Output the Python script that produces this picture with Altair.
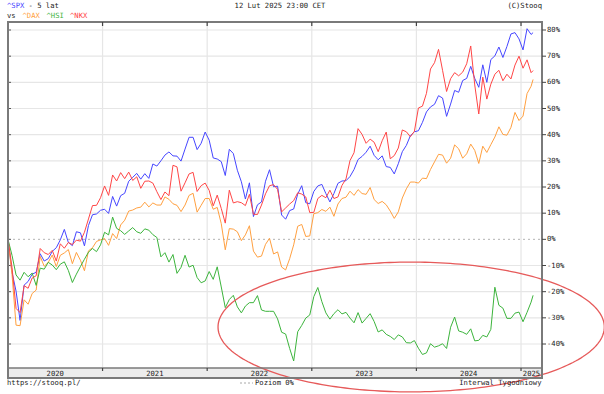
import altair as alt
import pandas as pd
import numpy as np

# ---------------- data (percent change vs 2020-02-14, bi-weekly) ----------------
dates = list(pd.date_range("2020-02-14", periods=131, freq="14D")) + [pd.Timestamp("2025-02-14")]
date_str = [d.strftime("%Y-%m-%dT00:00:00Z") for d in dates]

spx = [0, -12.6, -19.8, -31.0, -17.5, -16.1, -13.3, -12.6, -5.5, -8.3,
       -7.4, -4.6, -3.2, -0.2, 3.8, -1.2, -2.4, 2.9, 2.5, -2.5,
       5.3, 9.4, 9.7, 11.1, 11.5, 9.9, 16.4, 12.7, 16.7, 17.6,
       22.2, 23.7, 25.2, 23.0, 25.1, 23.3, 28.8, 28.0, 30.0, 32.2,
       33.4, 31.9, 31.8, 29.9, 34.5, 39.0, 39.0, 34.3, 36.7, 41.0,
       37.9, 31.1, 30.7, 29.7, 24.4, 34.4, 32.8, 26.4, 22.0, 15.4,
       21.6, 8.7, 13.2, 14.3, 22.2, 26.6, 20.1, 20.3, 9.3, 7.7,
       11.0, 11.6, 17.3, 20.5, 14.0, 13.6, 18.3, 20.4, 21.0, 17.5,
       14.3, 17.5, 21.4, 22.3, 22.4, 24.0, 26.7, 30.5, 31.7, 33.3,
       35.6, 32.1, 30.4, 31.9, 27.8, 27.5, 25.0, 28.9, 33.5, 35.9,
       39.6, 41.1, 41.5, 44.7, 48.7, 50.6, 51.6, 54.9, 54.0, 47.0,
       51.7, 56.9, 56.2, 60.7, 61.5, 66.1, 61.5, 58.1, 66.7, 60.0,
       68.7, 70.1, 73.5, 69.5, 73.7, 78.5, 79.0, 76.6, 72.4, 80.5,
       78.3, 79.0]

dax = [0, -13.5, -32.8, -33.0, -23.1, -24.8, -20.7, -19.4, -6.5, -10.3,
       -8.8, -6.0, -10.4, -6.1, -5.2, -3.9, -9.3, -5.0, -8.0, -12.0,
       -4.4, -3.2, -0.8, -0.2, 0.3, -2.3, 2.2, 0.3, 5.5, 7.3,
       10.8, 11.2, 12.0, 12.3, 14.2, 12.4, 13.9, 13.1, 13.1, 16.2,
       15.3, 13.6, 13.0, 10.6, 13.1, 16.8, 17.6, 10.4, 13.0, 15.6,
       15.6, 11.5, 12.2, 6.0, -4.0, 4.1, 3.9, 2.9, -0.5, 1.7,
       5.2, -4.5, -6.8, -6.4, -1.9, 0.4, -5.6, -4.8, -10.6, -11.7,
       -7.4, -2.1, 5.0, 5.7, 1.1, 1.3, 9.8, 10.2, 11.4, 10.7,
       12.3, 8.8, 13.5, 15.6, 16.1, 18.4, 16.8, 19.0, 17.5, 17.2,
       19.8, 15.2, 13.7, 14.5, 13.2, 10.8, 8.0, 10.5, 15.8, 19.3,
       21.9, 21.9, 21.5, 23.4, 23.2, 26.7, 29.6, 32.5, 32.2, 29.1,
       31.0, 36.1, 34.6, 31.0, 32.7, 36.4, 34.0, 29.0, 35.6, 33.2,
       36.2, 39.1, 43.0, 40.1, 39.8, 42.8, 48.5, 45.4, 47.1, 55.7,
       58.5, 61.1]

hsi = [0, -6.1, -13.6, -15.6, -12.6, -14.3, -12.9, -17.6, -11.0, -11.4,
       -8.8, -9.8, -11.6, -9.5, -8.6, -11.9, -16.5, -13.3, -10.4, -7.6,
       -4.9, -3.5, -4.7, -2.1, 2.7, 1.7, 8.5, 4.2, 3.3, 1.9,
       3.2, 4.5, 2.9, 2.3, 4.0, 3.5, 1.8, 0.7, -6.7, -5.1,
       -8.7, -5.8, -13.0, -10.7, -6.1, -10.6, -9.9, -14.6, -16.6, -15.9,
       -12.3, -15.3, -10.5, -18.2, -26.1, -23.0, -21.4, -25.8, -28.1, -25.5,
       -24.2, -24.2, -21.5, -27.0, -27.5, -27.5, -27.5, -30.4, -35.5, -36.2,
       -41.7, -46.5, -35.3, -32.9, -30.1, -28.9, -21.9, -18.4, -23.8, -28.1,
       -30.5, -28.4, -26.9, -28.5, -27.9, -30.1, -31.9, -28.0, -32.0, -30.2,
       -28.4, -31.4, -35.4, -34.6, -36.3, -37.1, -38.3, -36.5, -37.3, -39.5,
       -39.6, -38.7, -41.6, -44.0, -43.4, -39.9, -41.2, -40.7, -39.9, -41.7,
       -33.6, -29.7, -35.0, -35.5, -36.3, -34.2, -38.8, -38.6, -36.7, -37.3,
       -34.4, -18.3, -25.2, -26.3, -30.2, -30.2, -28.2, -27.8, -31.5, -27.9,
       -24.0, -21.4]

nkx = [0, -10.7, -26.4, -28.0, -17.7, -18.7, -14.8, -13.9, -3.5, -5.1,
       -5.8, -4.2, -8.3, -1.7, -3.4, -1.2, -2.0, -0.3, -0.7, 2.7,
       7.8, 12.9, 13.0, 15.9, 20.4, 16.8, 24.6, 22.3, 25.5, 23.2,
       25.7, 22.5, 23.9, 19.5, 22.2, 22.3, 21.5, 18.2, 15.2, 18.1,
       16.7, 28.3, 27.7, 18.4, 21.6, 25.0, 25.6, 18.3, 20.5, 21.5,
       18.7, 12.8, 16.9, 11.8, 6.2, 18.8, 13.9, 14.4, 14.0, 12.9,
       17.2, 9.6, 9.5, 13.1, 17.4, 20.5, 20.9, 19.1, 10.5, 12.0,
       13.5, 14.8, 17.8, 17.3, 16.2, 10.2, 10.3, 15.6, 16.8, 15.9,
       18.8, 15.6, 16.2, 20.6, 23.1, 30.1, 33.1, 42.3, 40.1, 36.7,
       38.3, 37.1, 33.5, 37.7, 41.0, 30.8, 32.0, 34.9, 41.8, 41.1,
       39.2, 41.3, 50.2, 50.9, 55.8, 65.1, 67.5, 72.6, 64.6, 56.5,
       61.4, 63.7, 62.5, 63.9, 67.1, 73.9, 59.0, 47.9, 62.0, 53.6,
       59.3, 63.1, 64.6, 60.6, 63.1, 61.3, 66.6, 70.0, 65.4, 68.6,
       63.7, 64.5]

series_names = ["^SPX", "^DAX", "^HSI", "^NKX"]
series_colors = ["#4646ff", "#ffa040", "#3cb43c", "#ff4646"]
series_values = [spx, dax, hsi, nkx]

year_bounds = ["2021-01-08", "2022-01-07", "2023-01-06", "2024-01-05", "2025-01-03"]
year_labels = ["2020", "2021", "2022", "2023", "2024", "2025"]
y_ticks = [80, 70, 60, 50, 40, 30, 20, 10, 0, -10, -20, -30, -40]
y_tick_labels = [f"{v}%" for v in y_ticks]

# ---------------- layout ----------------
W, H, BAND = 534, 346, 10
FONT = "DejaVu Sans Mono"
FS = 7.2
X_START, X_END = "2020-02-14", "2025-03-17"
GRID = "#e6e6e6"
FRAME = "#7a7a7a"

xscale = alt.Scale(type="utc",
                   domain=[alt.DateTime(year=2020, month=2, date=14, utc=True),
                           alt.DateTime(year=2025, month=3, date=17, utc=True)])
yscale = alt.Scale(domain=[-49.17, 83.06], nice=False, zero=False)

one = pd.DataFrame({"a": [0]})

band = alt.Chart(one).mark_rect(fill="#ececec").encode(
    x=alt.value(0), x2=alt.value(W), y=alt.value(H), y2=alt.value(H + BAND))

vb = pd.DataFrame({"d": [b + "T00:00:00Z" for b in year_bounds]})
vgrid = alt.Chart(vb).mark_rule(color=GRID, strokeWidth=1.2).encode(
    x=alt.X("d:T", scale=xscale, axis=None), y=alt.value(0), y2=alt.value(H))

hg = pd.DataFrame({"v": [t for t in y_ticks if t != 0]})
hgrid = alt.Chart(hg).mark_rule(color=GRID, strokeWidth=1.2).encode(
    y=alt.Y("v:Q", scale=yscale, axis=None), x=alt.value(0), x2=alt.value(W))

zero = alt.Chart(pd.DataFrame({"v": [0]})).mark_rule(
    color="#b4b4b4", strokeDash=[2, 3], strokeWidth=1).encode(
    y=alt.Y("v:Q", scale=yscale, axis=None), x=alt.value(0), x2=alt.value(W))

ytk = pd.DataFrame({"v": y_ticks, "lab": y_tick_labels})
lticks = alt.Chart(ytk).mark_rule(color="#555").encode(
    y=alt.Y("v:Q", scale=yscale, axis=None), x=alt.value(0), x2=alt.value(3))
rticks = alt.Chart(ytk).mark_rule(color="#444").encode(
    y=alt.Y("v:Q", scale=yscale, axis=None), x=alt.value(W), x2=alt.value(W + 4))
rlabels = alt.Chart(ytk).mark_text(font=FONT, fontSize=FS, color="#222", align="left",
                                   baseline="middle").encode(
    y=alt.Y("v:Q", scale=yscale, axis=None), x=alt.value(W + 5), text="lab:N")

lines = []
for name, col, vals in zip(series_names, series_colors, series_values):
    d = pd.DataFrame({"date": date_str, "pct": vals})
    lines.append(alt.Chart(d).mark_line(color=col, strokeWidth=1).encode(
        x=alt.X("date:T", scale=xscale, axis=None),
        y=alt.Y("pct:Q", scale=yscale, axis=None)))

# hand-drawn ellipse annotation (in data coordinates)
t = np.linspace(0, 2 * np.pi, 240)
c_date = pd.Timestamp(X_START) + pd.to_timedelta(1402.8, unit="D")
e_dates = [(c_date + pd.to_timedelta(672.0 * np.cos(tt), unit="D")).strftime("%Y-%m-%dT%H:%M:%SZ") for tt in t]
ell = pd.DataFrame({"d": e_dates, "v": -33.5 + 24.8 * np.sin(t), "i": np.arange(len(t))})
ellipse = alt.Chart(ell).mark_line(color="#e65a5a", strokeWidth=1.3).encode(
    x=alt.X("d:T", scale=xscale, axis=None),
    y=alt.Y("v:Q", scale=yscale, axis=None),
    order="i:Q")

frame = alt.Chart(one).mark_rect(fillOpacity=0, stroke=FRAME, strokeWidth=2).encode(
    x=alt.value(0), x2=alt.value(W), y=alt.value(0), y2=alt.value(H + BAND))
sep = alt.Chart(one).mark_rule(color=FRAME, strokeWidth=1.5).encode(
    x=alt.value(0), x2=alt.value(W), y=alt.value(H))

ttop = alt.Chart(vb).mark_rule(color="#444", strokeWidth=1.2).encode(
    x=alt.X("d:T", scale=xscale, axis=None), y=alt.value(0), y2=alt.value(4))
tband = alt.Chart(vb).mark_rule(color="#444", strokeWidth=1.2).encode(
    x=alt.X("d:T", scale=xscale, axis=None), y=alt.value(H), y2=alt.value(H + 3))

edges = [pd.Timestamp(X_START)] + [pd.Timestamp(b) for b in year_bounds] + [pd.Timestamp(X_END)]
mids = [(edges[k] + (edges[k + 1] - edges[k]) / 2).strftime("%Y-%m-%dT%H:%M:%SZ") for k in range(len(year_labels))]
yl = pd.DataFrame({"d": mids, "lab": year_labels})
ylabels = alt.Chart(yl).mark_text(font=FONT, fontSize=FS, color="#222", baseline="middle").encode(
    x=alt.X("d:T", scale=xscale, axis=None), y=alt.value(H + BAND / 2 + 0.5), text="lab:N")


def txt(s, x, y, color="#222", align="left"):
    return alt.Chart(one).mark_text(font=FONT, fontSize=FS, color=color, align=align,
                                    baseline="middle", text=s).encode(
        x=alt.value(x), y=alt.value(y))


texts = [
    txt("^SPX", -1, -16, "#4646ff"),
    txt("- 5 lat", -1 + 5 * 4.3, -16),
    txt("vs", -1, -6.5),
    txt("^DAX", 14.5, -6.5, "#ffa040"),
    txt("^HSI", 38.5, -6.5, "#3cb43c"),
    txt("^NKX", 62, -6.5, "#ff4646"),
    txt("12 Lut 2025 23:00 CET", 272, -16, align="center"),
    txt("(C)Stooq", 534, -16, align="right"),
    txt("https://stooq.pl/", -1, H + 15),
    txt("Poziom 0%", 247, H + 15),
    txt("Interwal Tygodniowy", 533.5, H + 15, align="right"),
]
legend_dash = alt.Chart(one).mark_rule(color="#a8a8a8", strokeDash=[2, 2]).encode(
    x=alt.value(232), x2=alt.value(245), y=alt.value(H + 15))

chart = alt.layer(
    band, vgrid, hgrid, zero, lticks, *lines, ellipse, sep, frame, ttop, tband, rticks,
    rlabels, ylabels, legend_dash, *texts
).properties(
    width=W, height=H,
    autosize=alt.AutoSizeParams(type="none"),
    padding={"left": 8, "top": 22, "right": 62, "bottom": 26},
    background="white",
).configure_view(strokeWidth=0)

chart.save("out.html", embed_options={"renderer": "svg", "actions": False})
